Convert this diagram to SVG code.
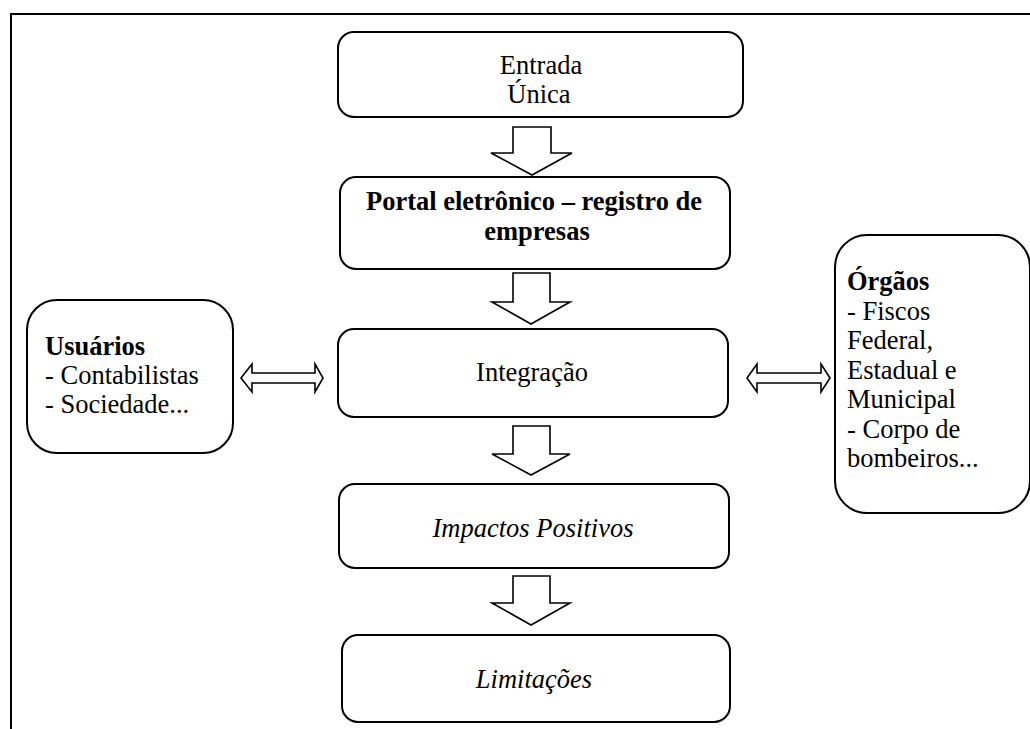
<svg xmlns="http://www.w3.org/2000/svg" width="1030" height="729" viewBox="0 0 1030 729">
<style>
.box{fill:#fff;stroke:#000;stroke-width:2}
.arr{fill:#fff;stroke:#000;stroke-width:1.6;stroke-linejoin:miter}
text{font-family:'Liberation Serif','Tinos','Times New Roman','DejaVu Serif',serif;font-size:26.5px;fill:#000}
.c{text-anchor:middle}
.b{font-weight:bold}
.i{font-style:italic}
</style>
<rect width="1030" height="729" fill="#fff"/>
<g id="frame">
<path d="M11 729 V14 H1030" fill="none" stroke="#000" stroke-width="2"/>
</g>
<g id="connectors">
<polygon class="arr" points="513,127 551,127 551,153 572,153 532,175 491,153 513,153"/>
<polygon class="arr" points="513,273 550,273 550,302 570,302 531,324 492,302 513,302"/>
<polygon class="arr" points="513,426 550,426 550,454 570,454 531,475 492,454 513,454"/>
<polygon class="arr" points="513,576 550,576 550,603 570,603 531,625 492,603 513,603"/>
<polygon class="arr" points="241,378 252,364 252,373 315,373 315,364 323,378 315,392 315,383 252,383 252,392"/>
<polygon class="arr" points="747,378 757,364 757,373 821,373 821,364 830,378 821,392 821,383 757,383 757,392"/>
</g>
<g id="entrada" font-family="Liberation Serif, serif">
<rect class="box" x="338" y="32" width="405" height="85" rx="16"/>
<text class="c" x="541" y="74">Entrada</text>
<text class="c" x="539" y="103">Única</text>
</g>
<g id="portal">
<rect class="box" x="340" y="177" width="390" height="92" rx="16"/>
<text class="c b" x="534" y="210">Portal eletrônico – registro de</text>
<text class="c b" x="537" y="240">empresas</text>
</g>
<g id="integracao">
<rect class="box" x="338" y="329" width="390" height="88" rx="16"/>
<text class="c" x="532" y="381">Integração</text>
</g>
<g id="impactos">
<rect class="box" x="339" y="484" width="390" height="84" rx="16"/>
<text class="c i" x="533" y="537">Impactos Positivos</text>
</g>
<g id="limitacoes">
<rect class="box" x="342" y="635" width="388" height="87" rx="16"/>
<text class="c i" x="534" y="688">Limitações</text>
</g>
<g id="usuarios">
<rect class="box" x="27" y="300" width="206" height="153" rx="30"/>
<text class="b" x="45" y="355">Usuários</text>
<text x="45" y="384">- Contabilistas</text>
<text x="45" y="413">- Sociedade...</text>
</g>
<g id="orgaos">
<rect class="box" x="835" y="235" width="195" height="278" rx="32"/>
<text class="b" x="847" y="290">Órgãos</text>
<text x="847" y="320">- Fiscos</text>
<text x="847" y="349">Federal,</text>
<text x="847" y="379">Estadual e</text>
<text x="847" y="408">Municipal</text>
<text x="847" y="438">- Corpo de</text>
<text x="847" y="467">bombeiros...</text>
</g>
</svg>
